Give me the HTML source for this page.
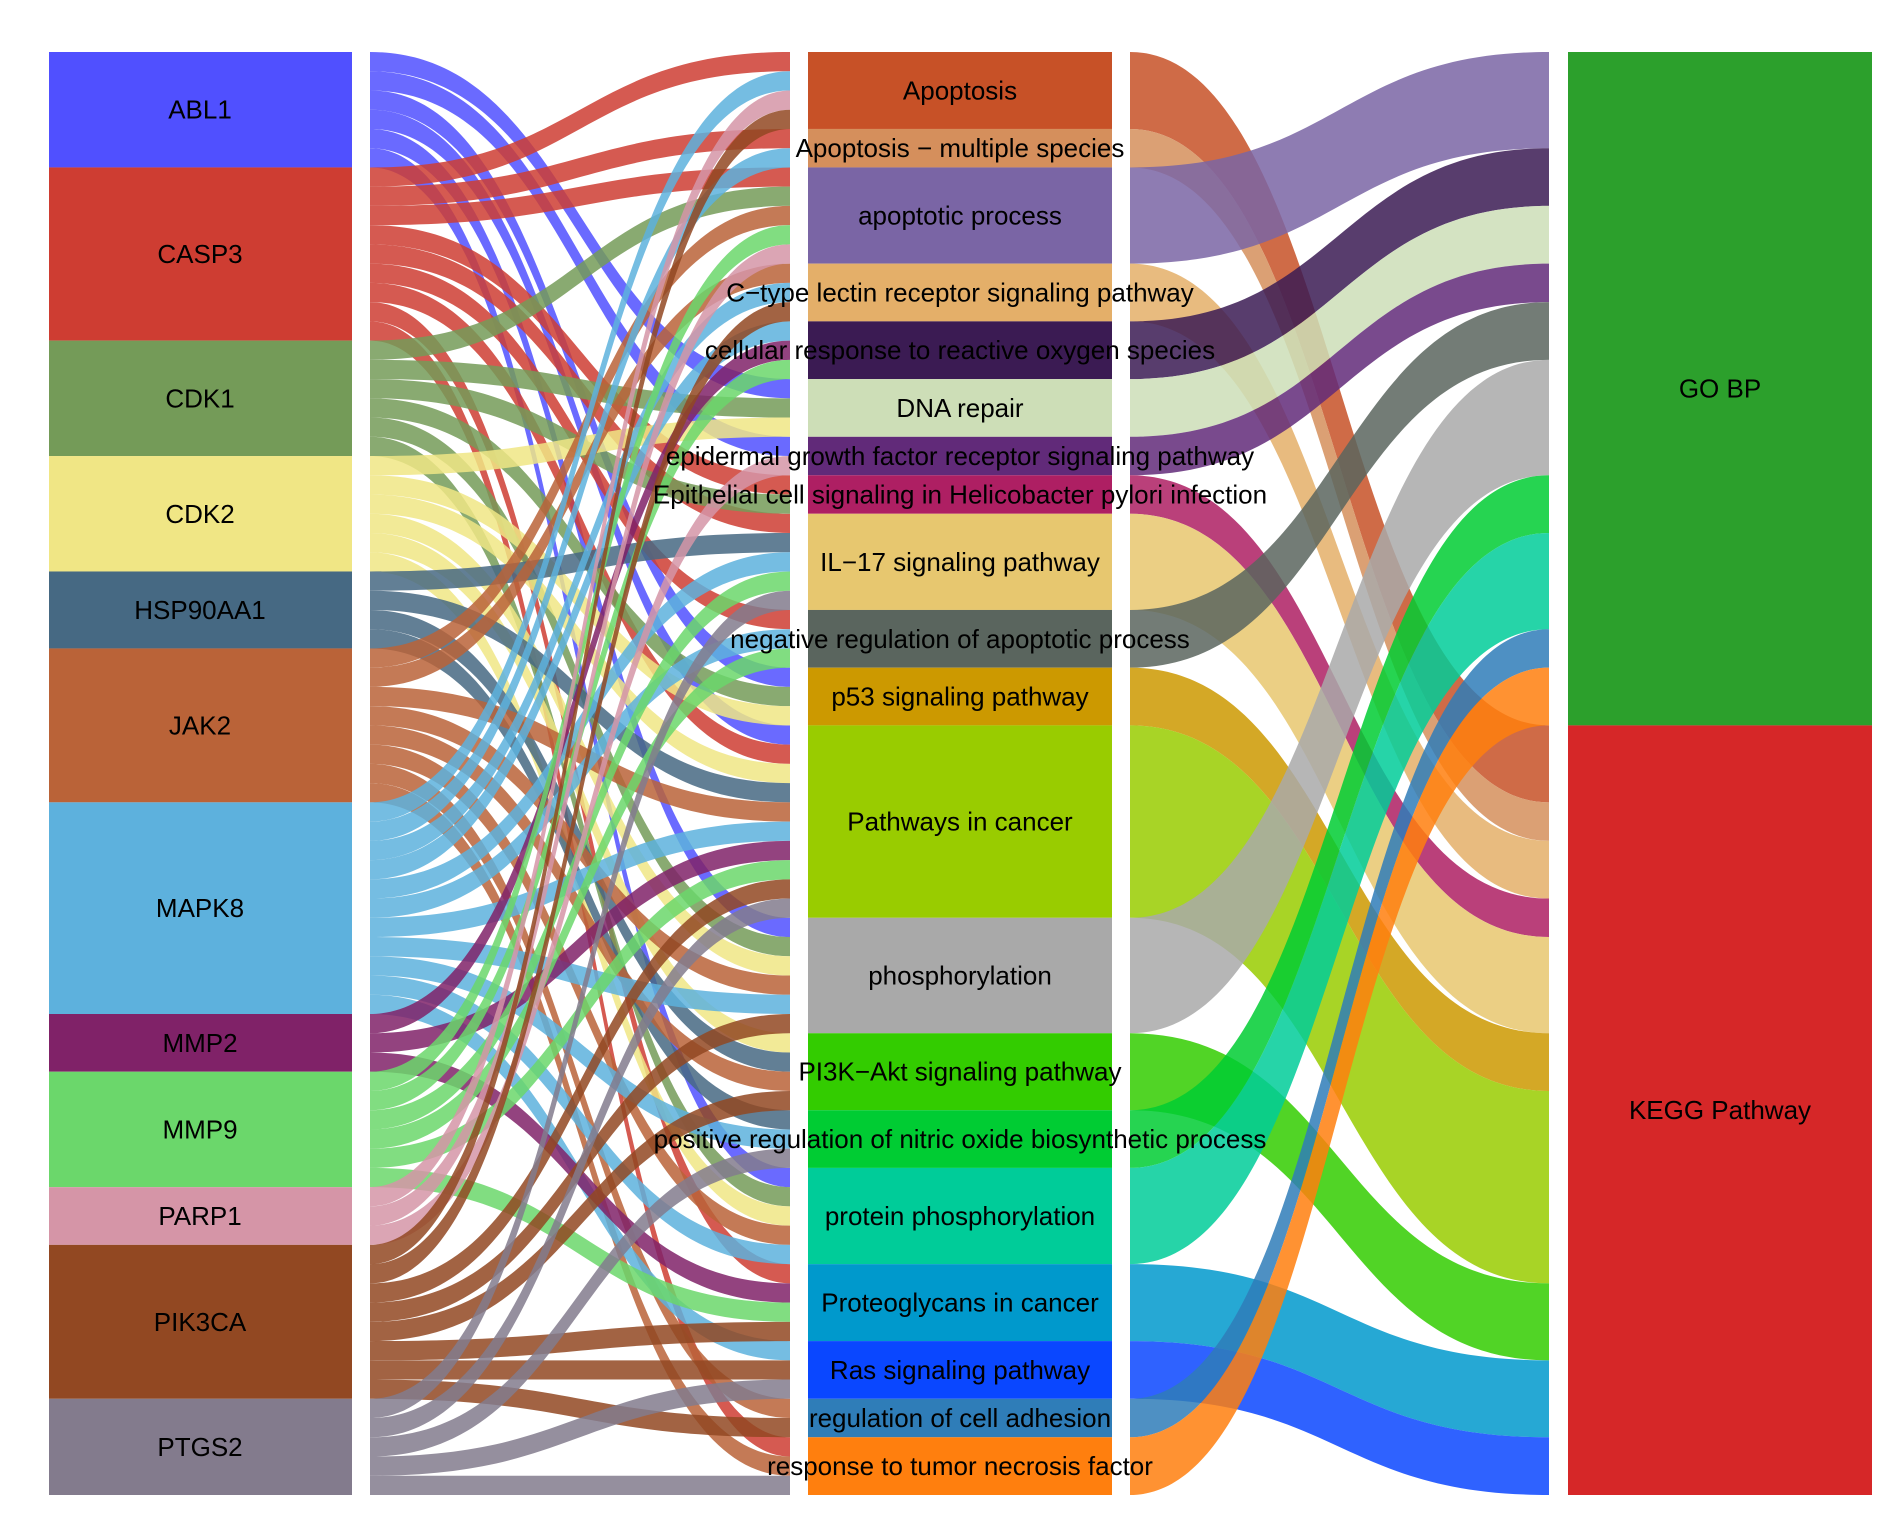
<!DOCTYPE html>
<html><head><meta charset="utf-8"><style>
html,body{margin:0;padding:0;background:#fff;}
svg{display:block;}
text{font-family:"Liberation Sans",Arial,sans-serif;font-size:26px;fill:#000;}
</style></head><body>
<svg id="s" width="1895" height="1517" xmlns="http://www.w3.org/2000/svg">
<g id="rib1"></g><g id="rib2"></g><g id="nodes"></g><g id="labels"></g>
</svg>
<script>
var NS="http://www.w3.org/2000/svg";
var top0=52, bot=1495, U=(bot-top0)/75;
var genes=[["ABL1","#5050FF"],["CASP3","#CE3D32"],["CDK1","#749B58"],["CDK2","#F0E685"],["HSP90AA1","#466983"],["JAK2","#BA6338"],["MAPK8","#5DB1DD"],["MMP2","#802268"],["MMP9","#6BD76B"],["PARP1","#D595A7"],["PIK3CA","#924822"],["PTGS2","#837B8D"]];
var gi={};genes.forEach(function(g,i){gi[g[0]]=i;});
var G="GO",K="KEGG";
var terms=[
["Apoptosis","#C75127",K,["CASP3","MAPK8","PARP1","PIK3CA"]],
["Apoptosis \u2212 multiple species","#D58F5C",K,["CASP3","MAPK8"]],
["apoptotic process","#7A65A5",G,["CASP3","CDK1","JAK2","MMP9","PARP1"]],
["C\u2212type lectin receptor signaling pathway","#E4AF69",K,["JAK2","MAPK8","PIK3CA"]],
["cellular response to reactive oxygen species","#3B1B53",G,["MAPK8","MMP2","MMP9"]],
["DNA repair","#CDDEB7",G,["ABL1","CDK1","CDK2"]],
["epidermal growth factor receptor signaling pathway","#612A79",G,["ABL1","PARP1"]],
["Epithelial cell signaling in Helicobacter pylori infection","#AE1F63",K,["CASP3","CDK1"]],
["IL\u221217 signaling pathway","#E7C76F",K,["CASP3","HSP90AA1","MAPK8","MMP9","PTGS2"]],
["negative regulation of apoptotic process","#5A655E",G,["CASP3","MAPK8","MMP9"]],
["p53 signaling pathway","#CC9900",K,["ABL1","CDK1","CDK2"]],
["Pathways in cancer","#99CC00",K,["ABL1","CASP3","CDK2","HSP90AA1","JAK2","MAPK8","MMP2","MMP9","PIK3CA","PTGS2"]],
["phosphorylation","#A9A9A9",G,["ABL1","CDK1","CDK2","JAK2","MAPK8","PIK3CA"]],
["PI3K\u2212Akt signaling pathway","#33CC00",K,["CDK2","HSP90AA1","JAK2","PIK3CA"]],
["positive regulation of nitric oxide biosynthetic process","#00CC33",G,["HSP90AA1","MAPK8","PTGS2"]],
["protein phosphorylation","#00CC99",G,["ABL1","CDK1","CDK2","JAK2","MAPK8"]],
["Proteoglycans in cancer","#0099CC",K,["CASP3","MMP2","MMP9","PIK3CA"]],
["Ras signaling pathway","#0A47FF",K,["MAPK8","PIK3CA","PTGS2"]],
["regulation of cell adhesion","#2F7DB8",G,["JAK2","PIK3CA"]],
["response to tumor necrosis factor","#FF7F0E",G,["CASP3","JAK2","PTGS2"]]
];
function el(t,a,p){var e=document.createElementNS(NS,t);for(var k in a)e.setAttribute(k,a[k]);(p||document.getElementById("s")).appendChild(e);return e;}
function rect(x,y,w,h,c){el("rect",{x:x,y:y,width:w,height:h,fill:c},document.getElementById("nodes"));}
function label(x,y,t){var e=el("text",{x:x,y:y+9,"text-anchor":"middle"},document.getElementById("labels"));e.textContent=t;}
function ribbon(g,x0,y0,x1,y1,h,c,op){var m=(x0+x1)/2;
 var d="M"+x0+","+y0+" C"+m+","+y0+" "+m+","+y1+" "+x1+","+y1+" L"+x1+","+(y1+h)+" C"+m+","+(y1+h)+" "+m+","+(y0+h)+" "+x0+","+(y0+h)+" Z";
 el("path",{d:d,fill:c,"fill-opacity":op},g);}
var gcount=genes.map(function(){return 0;});
terms.forEach(function(t){t[3].forEach(function(g){gcount[gi[g]]++;});});
var gy=[],y=top0;
genes.forEach(function(g,i){gy.push(y);rect(49,y,303,gcount[i]*U,g[1]);label(200,y+gcount[i]*U/2,g[0]);y+=gcount[i]*U;});
var ty=[];y=top0;
terms.forEach(function(t){ty.push(y);var h=t[3].length*U;rect(808,y,304,h,t[1]);y+=h;});
var gcur=gy.slice();var r1=document.getElementById("rib1");
var links=[];
terms.forEach(function(t,ti){t[3].forEach(function(g,k){links.push([gi[g],ti,ty[ti]+k*U]);});});
links.sort(function(a,b){return a[0]-b[0]||a[1]-b[1];});
links.forEach(function(l){var y0=gcur[l[0]];gcur[l[0]]+=U;ribbon(r1,370,y0,790,l[2],U,genes[l[0]][1],0.85);});
var goN=0,keN=0;terms.forEach(function(t){if(t[2]==G)goN+=t[3].length;else keN+=t[3].length;});
rect(1568,top0,304,goN*U,"#2CA02C");rect(1568,top0+goN*U,304,keN*U,"#D62728");
var cur={GO:top0,KEGG:top0+goN*U};var r2=document.getElementById("rib2");
terms.forEach(function(t,ti){var h=t[3].length*U;ribbon(r2,1130,ty[ti],1549,cur[t[2]],h,t[1],0.85);cur[t[2]]+=h;});
terms.forEach(function(t,ti){label(960,ty[ti]+t[3].length*U/2,t[0]);});
label(1720,top0+goN*U/2,"GO BP");label(1720,top0+goN*U+keN*U/2,"KEGG Pathway");
</script>
</body></html>
